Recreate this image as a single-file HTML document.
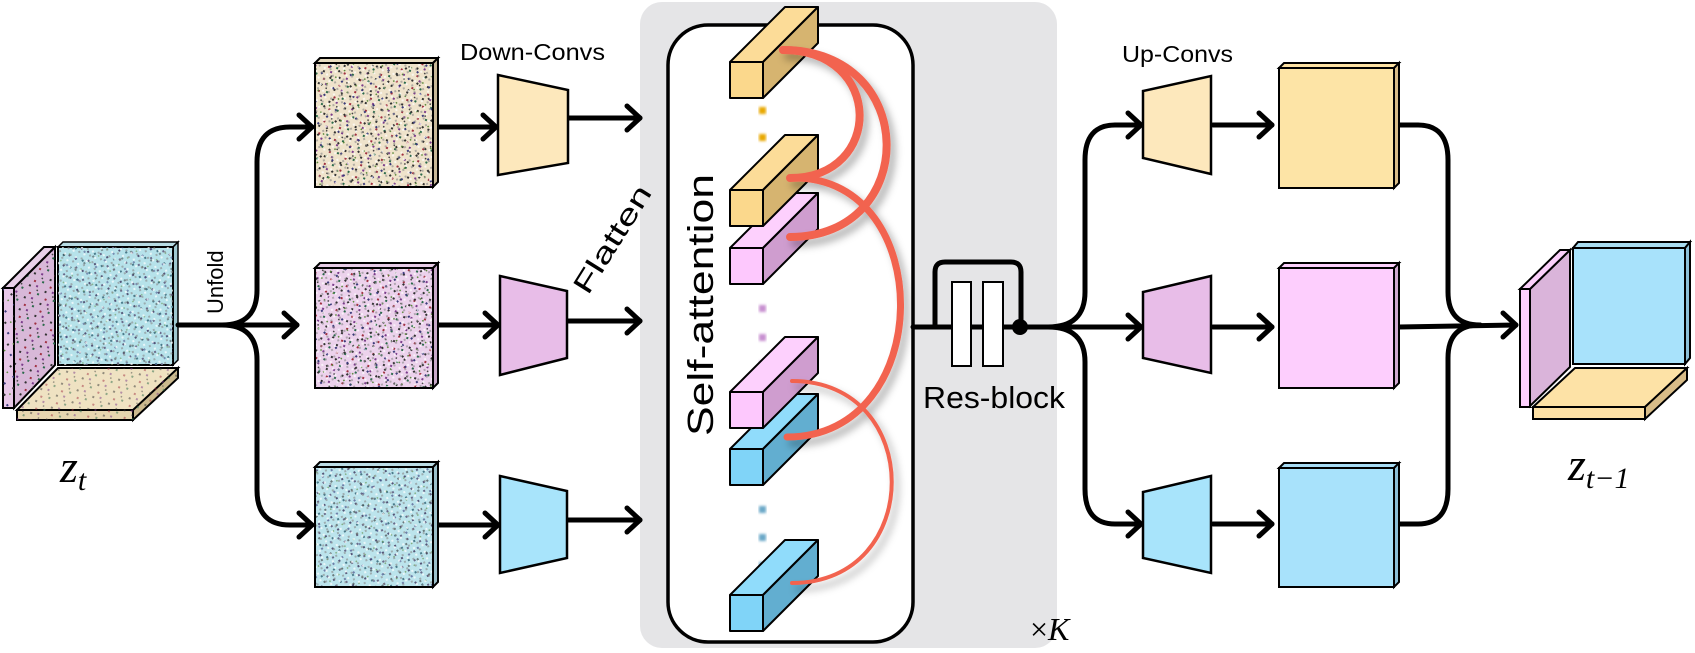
<!DOCTYPE html>
<html><head><meta charset="utf-8"><style>
html,body{margin:0;padding:0;background:#fff;}
svg{display:block;}
</style></head><body>
<svg width="1695" height="653" viewBox="0 0 1695 653" xmlns="http://www.w3.org/2000/svg" font-family="Liberation Sans, sans-serif">
<defs>
<pattern id="n1" width="17" height="13" patternUnits="userSpaceOnUse" patternTransform="rotate(23)">
<rect x="2" y="3" width="2" height="2" fill="#333"/><rect x="9" y="1" width="2" height="2" fill="#7a3b8a"/>
<rect x="13" y="8" width="2" height="2" fill="#2a6a4a"/><rect x="5" y="10" width="2" height="2" fill="#a03040"/>
<rect x="11" y="5" width="1.5" height="1.5" fill="#444"/>
</pattern>
<pattern id="n2" width="11" height="19" patternUnits="userSpaceOnUse" patternTransform="rotate(-37)">
<rect x="3" y="4" width="2" height="2" fill="#3a3a7a"/><rect x="7" y="13" width="2" height="2" fill="#333"/>
<rect x="1" y="16" width="1.5" height="1.5" fill="#5a8a3a"/>
</pattern>
<pattern id="n3" width="14" height="14" patternUnits="userSpaceOnUse" patternTransform="rotate(61)">
<rect x="4" y="6" width="2" height="2" fill="#6a6a8a"/><rect x="10" y="2" width="2" height="2" fill="#557"/>
<rect x="1" y="11" width="2" height="2" fill="#4a7a8a"/>
</pattern>
<pattern id="n4" width="7" height="9" patternUnits="userSpaceOnUse" patternTransform="rotate(71)">
<rect x="1" y="2" width="2" height="2" fill="#fff" opacity="0.7"/><rect x="4" y="6" width="2" height="2" fill="#888" opacity="0.6"/>
</pattern>
<clipPath id="floor"><polygon points="17,410 58,368 178,368 178,378 133,420 17,420"/></clipPath>
<filter id="sh" x="-30%" y="-30%" width="160%" height="160%"><feDropShadow dx="5" dy="6" stdDeviation="4" flood-color="#000" flood-opacity="0.3"/></filter>
<filter id="blur"><feGaussianBlur stdDeviation="1.2"/></filter>
</defs>

<rect x="640" y="2" width="417" height="646" rx="22" fill="#e5e5e7"/>
<rect x="668" y="25" width="245" height="617" rx="40" fill="#fff" stroke="#000" stroke-width="3.5"/>

<!-- left zt stack -->
<polygon points="17,410 58,368 178,368 136,410" fill="#efe2c2" stroke="#000" stroke-width="2"/>
<rect x="17" y="410" width="116" height="10" fill="#e6d6b0" stroke="#000" stroke-width="2"/>
<polygon points="133,410 178,368 178,378 133,420" fill="#cbb98e" stroke="#000" stroke-width="2"/>
<rect x="17" y="368" width="160" height="52" fill="url(#n1)" opacity="0.5" clip-path="url(#floor)"/>
<polygon points="14,288 55,247 55,365 14,408" fill="#d8b8d8" stroke="#000" stroke-width="2"/>
<polygon points="14,288 55,247 55,365 14,408" fill="url(#n1)"/>
<polygon points="3,288 44,247 55,247 14,288" fill="#e8d0e8" stroke="#000" stroke-width="2"/>
<rect x="3" y="288" width="11" height="120" fill="#e8c8e8" stroke="#000" stroke-width="2"/>
<rect x="3" y="288" width="11" height="120" fill="url(#n2)"/>
<polygon points="58,247 63,242 178,242 173,247" fill="#b8dce4" stroke="#000" stroke-width="1.5"/>
<polygon points="173,247 178,242 178,360 173,365" fill="#a0c8d0" stroke="#000" stroke-width="1.5"/>
<rect x="58" y="247" width="115" height="118" fill="#b6e2ea" stroke="#000" stroke-width="2"/>
<rect x="58" y="247" width="115" height="118" fill="url(#n3)"/>
<rect x="58" y="247" width="115" height="118" fill="url(#n2)" opacity="0.5"/>
<rect x="58" y="247" width="115" height="118" fill="url(#n4)"/>
<text x="60" y="482" style="font-family:'Liberation Serif',serif;font-style:italic;font-size:46px">z<tspan style="font-size:30px" dy="8">t</tspan></text>
<text transform="translate(223,314) rotate(-90)" style="font-size:22px">Unfold</text>

<g fill="none" stroke="#000" stroke-width="5" stroke-linecap="round" stroke-linejoin="round">
<path d="M178,325 L297,325"/>
<path d="M222,325 Q257,325 257,290 L257,162 Q257,127 290,127 L312,127"/>
<path d="M222,325 Q257,325 257,360 L257,490 Q257,525 290,525 L312,525"/>
<path d="M284,313 L297,325 L284,337"/>
<path d="M299,115 L312,127 L299,139"/>
<path d="M299,513 L312,525 L299,537"/>
<path d="M435,127 L496,127"/><path d="M483,115 L496,127 L483,139"/>
<path d="M435,325 L498,325"/><path d="M485,313 L498,325 L485,337"/>
<path d="M435,525 L498,525"/><path d="M485,513 L498,525 L485,537"/>
<path d="M568,118 L640,118"/><path d="M627,106 L640,118 L627,130"/>
<path d="M567,321 L640,321"/><path d="M627,309 L640,321 L627,333"/>
<path d="M567,520 L640,520"/><path d="M627,508 L640,520 L627,532"/>
</g>

<g stroke="#000" stroke-width="2">
<polygon points="315,63 320,58 438,58 433,63" fill="#e8dcc0"/><polygon points="433,63 438,58 438,182 433,187" fill="#c8b898"/>
<rect x="315" y="63" width="118" height="124" fill="#efe3cb"/>
<polygon points="315,268 320,263 438,263 433,268" fill="#e6cce6"/><polygon points="433,268 438,263 438,383 433,388" fill="#c8a8c8"/>
<rect x="315" y="268" width="118" height="120" fill="#ecd2ec"/>
<polygon points="315,467 320,462 438,462 433,467" fill="#bcdde6"/><polygon points="433,467 438,462 438,582 433,587" fill="#9cc0ca"/>
<rect x="315" y="467" width="118" height="120" fill="#bce4ec"/>
</g>
<rect x="316" y="64" width="116" height="122" fill="url(#n1)"/><rect x="316" y="64" width="116" height="122" fill="url(#n2)"/><rect x="316" y="64" width="116" height="122" fill="url(#n4)"/>
<rect x="316" y="269" width="116" height="118" fill="url(#n1)"/><rect x="316" y="269" width="116" height="118" fill="url(#n2)"/><rect x="316" y="269" width="116" height="118" fill="url(#n4)"/>
<rect x="316" y="468" width="116" height="118" fill="url(#n3)"/><rect x="316" y="468" width="116" height="118" fill="url(#n2)" opacity="0.6"/><rect x="316" y="468" width="116" height="118" fill="url(#n4)"/>

<g stroke="#000" stroke-width="2.5">
<polygon points="498,75 568,90 568,163 498,175" fill="#fde8bc"/>
<polygon points="500,276 567,291 567,358 500,375" fill="#e8bde8"/>
<polygon points="500,476 567,491 567,558 500,573" fill="#a8e4fb"/>
</g>
<text x="460" y="60" style="font-size:23px" textLength="145" lengthAdjust="spacingAndGlyphs">Down-Convs</text>
<text transform="translate(588,296) rotate(-58)" style="font-size:28px" textLength="122" lengthAdjust="spacingAndGlyphs">Flatten</text>
<text transform="translate(713,436) rotate(-90)" style="font-size:36px" textLength="262" lengthAdjust="spacingAndGlyphs">Self-attention</text>

<g filter="url(#blur)">
<rect x="759" y="107" width="7" height="7" fill="#e8a800"/><rect x="759" y="134" width="7" height="7" fill="#e8a800"/><rect x="759" y="162" width="7" height="7" fill="#e8a800"/>
<rect x="759" y="305" width="7" height="7" fill="#c890d0"/><rect x="759" y="334" width="7" height="7" fill="#c890d0"/><rect x="759" y="361" width="7" height="7" fill="#c890d0"/>
<rect x="759" y="506" width="7" height="7" fill="#6aa8c8"/><rect x="759" y="534" width="7" height="7" fill="#6aa8c8"/><rect x="759" y="562" width="7" height="7" fill="#6aa8c8"/>
</g>

<g stroke="#000" stroke-width="2" stroke-linejoin="round">
<g><polygon points="730,595 785,540 818,540 763,595" fill="#90dcfb"/><polygon points="763,595 818,540 818,576 763,631" fill="#62aed0"/><rect x="730" y="595" width="33" height="36" fill="#80d4f8"/></g>
<g><polygon points="730,449 785,394 818,394 763,449" fill="#90dcfb"/><polygon points="763,449 818,394 818,430 763,485" fill="#62aed0"/><rect x="730" y="449" width="33" height="36" fill="#80d4f8"/></g>
<g><polygon points="730,392 785,337 818,337 763,392" fill="#fdd0fd"/><polygon points="763,392 818,337 818,373 763,428" fill="#cf9dcf"/><rect x="730" y="392" width="33" height="36" fill="#fdc8fd"/></g>
<g><polygon points="730,248 785,193 818,193 763,248" fill="#fdd0fd"/><polygon points="763,248 818,193 818,229 763,284" fill="#cf9dcf"/><rect x="730" y="248" width="33" height="36" fill="#fdc8fd"/></g>
<g><polygon points="730,190 785,135 818,135 763,190" fill="#fcdc98"/><polygon points="763,190 818,135 818,171 763,226" fill="#d6b470"/><rect x="730" y="190" width="33" height="36" fill="#fbd88c"/></g>
<g><polygon points="730,62 785,7 818,7 763,62" fill="#fcdc98"/><polygon points="763,62 818,7 818,43 763,98" fill="#d6b470"/><rect x="730" y="62" width="33" height="36" fill="#fbd88c"/></g>
</g>

<g fill="none" stroke="#f26450" stroke-linecap="round" filter="url(#sh)">
<path d="M783,50 C884,50 884,178 790,178" stroke-width="8"/>
<path d="M783,50 C920,50 920,237 790,237" stroke-width="8"/>
<path d="M795,178 C937,178 937,437 787,437" stroke-width="7"/>
<path d="M792,381 C925,381 925,583 792,583" stroke-width="4"/>
</g>

<g fill="none" stroke="#000" stroke-width="5" stroke-linecap="round" stroke-linejoin="round">
<path d="M913,327 L1141,327"/><path d="M1128,315 L1141,327 L1128,339"/>
<path d="M935,327 L935,272 Q935,262 945,262 L1011,262 Q1021,262 1021,272 L1021,327"/>
<path d="M1048,327 Q1085,327 1085,292 L1085,160 Q1085,125 1115,125 L1141,125"/>
<path d="M1128,113 L1141,125 L1128,137"/>
<path d="M1048,327 Q1085,327 1085,362 L1085,489 Q1085,524 1115,524 L1141,524"/>
<path d="M1128,512 L1141,524 L1128,536"/>
<path d="M1213,125 L1272,125"/><path d="M1259,113 L1272,125 L1259,137"/>
<path d="M1213,327 L1272,327"/><path d="M1259,315 L1272,327 L1259,339"/>
<path d="M1213,524 L1272,524"/><path d="M1259,512 L1272,524 L1259,536"/>
<path d="M1399,125 L1418,125 Q1448,125 1448,160 L1448,292 Q1448,325 1480,325"/>
<path d="M1399,524 L1418,524 Q1448,524 1448,489 L1448,358 Q1448,325 1480,325"/>
<path d="M1399,327 L1516,325"/><path d="M1503,313 L1516,325 L1503,337"/>
</g>
<rect x="952" y="282" width="19" height="84" fill="#fff" stroke="#000" stroke-width="2"/>
<rect x="983" y="282" width="20" height="84" fill="#fff" stroke="#000" stroke-width="2"/>
<circle cx="1020" cy="327" r="8" fill="#000"/>
<text x="923" y="408" style="font-size:31px" textLength="142" lengthAdjust="spacingAndGlyphs">Res-block</text>
<text x="1030" y="640" style="font-family:'Liberation Serif',serif;font-size:32px">×<tspan style="font-style:italic">K</tspan></text>

<g stroke="#000" stroke-width="2.5">
<polygon points="1143,91 1211,76 1211,174 1143,158" fill="#fde8bc"/>
<polygon points="1143,292 1211,276 1211,373 1143,358" fill="#e8bde8"/>
<polygon points="1143,492 1211,476 1211,573 1143,558" fill="#a8e4fb"/>
</g>
<text x="1122" y="62" style="font-size:23px" textLength="111" lengthAdjust="spacingAndGlyphs">Up-Convs</text>
<g stroke="#000" stroke-width="2">
<polygon points="1279,68 1284,63 1399,63 1394,68" fill="#fde2a4"/><polygon points="1394,68 1399,63 1399,183 1394,188" fill="#d8bc88"/>
<rect x="1279" y="68" width="115" height="120" fill="#fde4a6"/>
<polygon points="1279,268 1284,263 1399,263 1394,268" fill="#fcd0fc"/><polygon points="1394,268 1399,263 1399,383 1394,388" fill="#d0a8d0"/>
<rect x="1279" y="268" width="115" height="120" fill="#fdcefd"/>
<polygon points="1279,468 1284,463 1399,463 1394,468" fill="#a8dcf4"/><polygon points="1394,468 1399,463 1399,582 1394,587" fill="#8cc0d8"/>
<rect x="1279" y="468" width="115" height="119" fill="#a8e2fb"/>
</g>

<g stroke="#000" stroke-width="2">
<polygon points="1533,407 1575,368 1687,368 1645,407" fill="#fde2a6"/>
<rect x="1533" y="407" width="112" height="12" fill="#fde0a4"/>
<polygon points="1645,407 1687,368 1687,380 1645,419" fill="#d8bc88"/>
<polygon points="1530,289 1570,250 1570,367 1530,406" fill="#dab4da"/>
<polygon points="1520,289 1560,250 1570,250 1530,289" fill="#fcd0fc"/>
<rect x="1520" y="289" width="10" height="118" fill="#fdd0fd"/>
<polygon points="1573,248 1578,242 1690,242 1685,248" fill="#a8dcf0"/>
<polygon points="1685,248 1690,242 1690,358 1685,364" fill="#8cc0d8"/>
<rect x="1573" y="248" width="112" height="116" fill="#a8e2fb"/>
</g>
<text x="1568" y="480" style="font-family:'Liberation Serif',serif;font-style:italic;font-size:46px">z<tspan style="font-size:30px" dy="8">t−1</tspan></text>
</svg>
</body></html>
